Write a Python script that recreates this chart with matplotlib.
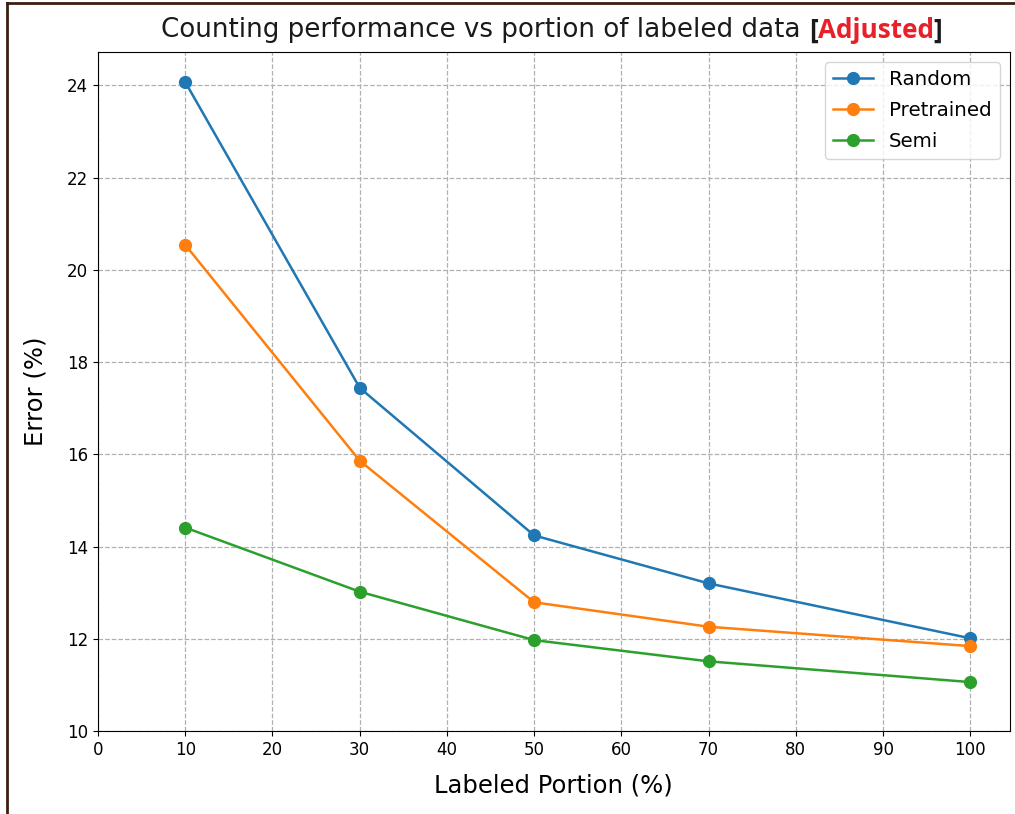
import matplotlib

matplotlib.use("Agg")
import matplotlib.pyplot as plt
from matplotlib.lines import Line2D
from matplotlib.transforms import offset_copy

labeled_portion = [10, 30, 50, 70, 100]
random_error = [24.07, 17.44, 14.24, 13.2, 12.01]
pretrained_error = [20.54, 15.86, 12.79, 12.26, 11.84]
semi_error = [14.41, 13.02, 11.97, 11.51, 11.06]
series_names = ["Random", "Pretrained", "Semi"]

fig = plt.figure(figsize=(10.15, 8.14), dpi=100, facecolor="white")
ax = fig.add_axes([0.0966, 0.102, 0.898, 0.834])

for name, values in zip(series_names, [random_error, pretrained_error, semi_error]):
    ax.plot(labeled_portion, values, marker="o", markersize=8.5, linewidth=1.8, label=name)

ax.set_xlim(left=0)
ax.set_ylim(bottom=10)
ax.set_xticks(range(0, 101, 10))
ax.tick_params(labelsize=12)
ax.set_xlabel("Labeled Portion (%)", fontsize=17.5, labelpad=11)
ax.set_ylabel("Error (%)", fontsize=17.5, labelpad=14)
ax.grid(True, linestyle="--", color="#b0b0b0", linewidth=0.9)
ax.legend(loc="upper right", fontsize=14.3, labelspacing=0.6)

# title in pieces: plain text, then a red bold tag in brackets
fig.canvas.draw()
renderer = fig.canvas.get_renderer()
parts = [
    ("Counting performance vs portion of labeled data ", "#1a1a1a", "normal", "DejaVu Sans"),
    ("[", "#1a1a1a", "bold", "Open Sans"),
    ("Adjusted", "#e8202a", "bold", "Open Sans"),
    ("]", "#1a1a1a", "bold", "Open Sans"),
]
texts = []
x_px = 0.0
for content, color, weight, family in parts:
    t = fig.text(0, 0.963, content, color=color, fontsize=18.8, fontweight=weight,
                 family=family, va="center", ha="left",
                 transform=offset_copy(fig.transFigure, fig=fig, x=x_px, y=0, units="dots"))
    width = t.get_window_extent(renderer).width
    texts.append(t)
    x_px += width
start = 552 - x_px / 2
offset = 0.0
for t in texts:
    w = t.get_window_extent(renderer).width
    t.set_transform(offset_copy(fig.transFigure, fig=fig, x=start + offset, y=0, units="dots"))
    offset += w

border = "#3b1e12"
fig.add_artist(Line2D([0.007, 0.007], [0, 0.996], transform=fig.transFigure, color=border, linewidth=2))
fig.add_artist(Line2D([0.007, 1.0], [0.996, 0.996], transform=fig.transFigure, color=border, linewidth=2))

fig.savefig("out.png", dpi=100, facecolor="white")
